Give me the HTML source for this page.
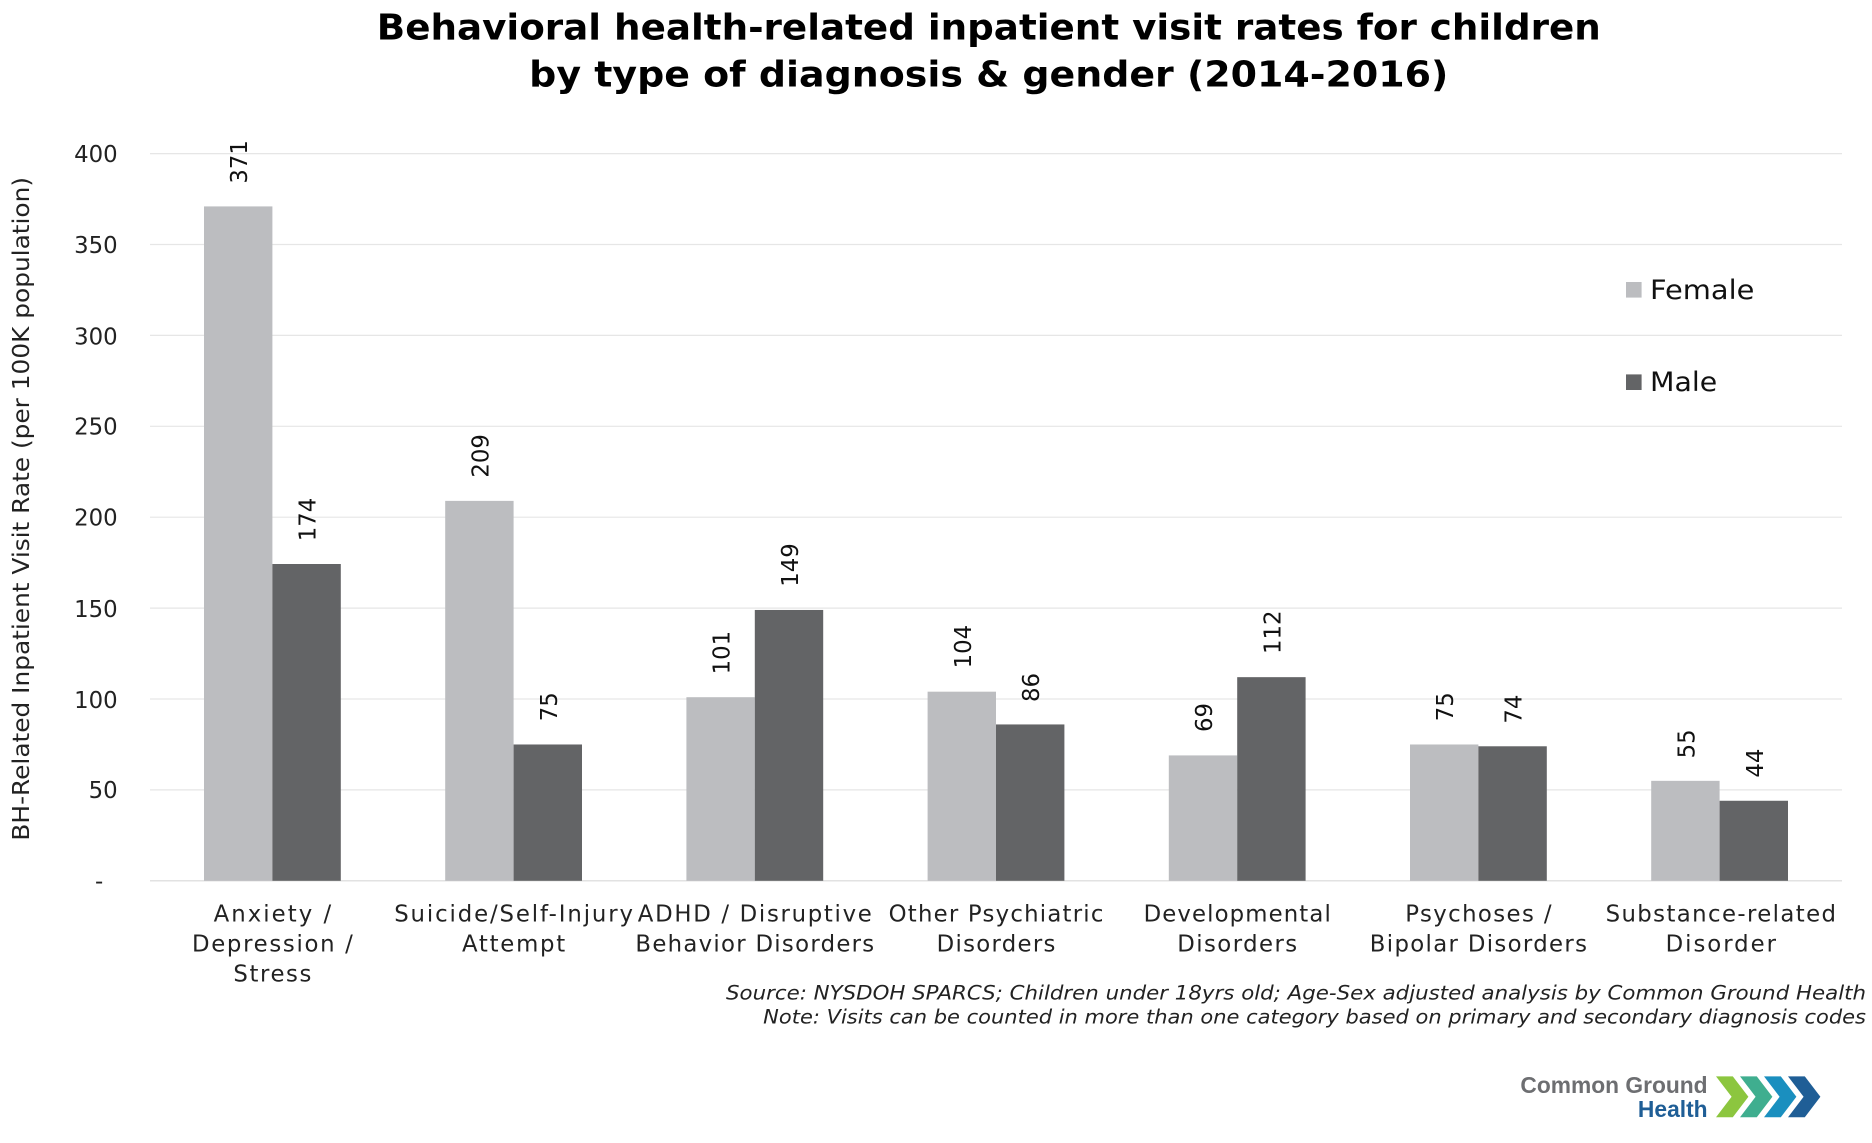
<!DOCTYPE html>
<html><head><meta charset="utf-8"><style>html,body{margin:0;padding:0;background:#fff;}svg{display:block;}</style></head>
<body>
<svg width="1872" height="1143" viewBox="0 0 1560 952.5" xmlns="http://www.w3.org/2000/svg" font-family="'DejaVu Sans','Liberation Sans',sans-serif">
<text x="824" y="33" font-size="30" font-weight="bold" text-anchor="middle" fill="#000" textLength="1020" lengthAdjust="spacingAndGlyphs">Behavioral health-related inpatient visit rates for children</text>
<text x="824" y="72" font-size="30" font-weight="bold" text-anchor="middle" fill="#000" textLength="766" lengthAdjust="spacingAndGlyphs">by type of diagnosis &amp; gender (2014-2016)</text>
<g stroke="#e6e6e6" stroke-width="1">
<line x1="125" x2="1535" y1="128" y2="128"/><line x1="125" x2="1535" y1="203.75" y2="203.75"/>
<line x1="125" x2="1535" y1="279.5" y2="279.5"/><line x1="125" x2="1535" y1="355.25" y2="355.25"/>
<line x1="125" x2="1535" y1="431" y2="431"/><line x1="125" x2="1535" y1="506.75" y2="506.75"/>
<line x1="125" x2="1535" y1="582.5" y2="582.5"/><line x1="125" x2="1535" y1="658.25" y2="658.25"/>
</g>
<line x1="125" x2="1535" y1="734" y2="734" stroke="#d9d9d9"/>
<g font-size="19" text-anchor="end" fill="#222">
<text x="98" y="135">400</text><text x="98" y="211">350</text><text x="98" y="287">300</text><text x="98" y="362">250</text>
<text x="98" y="438">200</text><text x="98" y="514">150</text><text x="98" y="590">100</text><text x="98" y="665">50</text><text x="86" y="741">-</text>
</g>
<text transform="translate(24,424) rotate(-90)" font-size="19" text-anchor="middle" fill="#222" textLength="553" lengthAdjust="spacingAndGlyphs">BH-Related Inpatient Visit Rate (per 100K population)</text>
<g id="bars">
<rect x="170" y="172" width="57" height="562" fill="#bcbdc0"/><rect x="227" y="470" width="57" height="264" fill="#636466"/>
<rect x="371" y="417.4" width="57" height="316.6" fill="#bcbdc0"/><rect x="428" y="620.4" width="57" height="113.6" fill="#636466"/>
<rect x="572" y="581" width="57" height="153" fill="#bcbdc0"/><rect x="629" y="508.3" width="57" height="225.7" fill="#636466"/>
<rect x="773" y="576.4" width="57" height="157.6" fill="#bcbdc0"/><rect x="830" y="603.7" width="57" height="130.3" fill="#636466"/>
<rect x="974" y="629.5" width="57" height="104.5" fill="#bcbdc0"/><rect x="1031" y="564.3" width="57" height="169.7" fill="#636466"/>
<rect x="1175" y="620.4" width="57" height="113.6" fill="#bcbdc0"/><rect x="1232" y="621.9" width="57" height="112.1" fill="#636466"/>
<rect x="1376" y="650.7" width="57" height="83.3" fill="#bcbdc0"/><rect x="1433" y="667.3" width="57" height="66.7" fill="#636466"/>
</g>
<g font-size="19" fill="#111">
<text transform="translate(206,153) rotate(-90)">371</text>
<text transform="translate(263,451) rotate(-90)">174</text>
<text transform="translate(407,398) rotate(-90)">209</text>
<text transform="translate(464,601) rotate(-90)">75</text>
<text transform="translate(608,562) rotate(-90)">101</text>
<text transform="translate(665,489) rotate(-90)">149</text>
<text transform="translate(809,557) rotate(-90)">104</text>
<text transform="translate(866,585) rotate(-90)">86</text>
<text transform="translate(1010,610) rotate(-90)">69</text>
<text transform="translate(1067,545) rotate(-90)">112</text>
<text transform="translate(1211,601) rotate(-90)">75</text>
<text transform="translate(1268,603) rotate(-90)">74</text>
<text transform="translate(1412,632) rotate(-90)">55</text>
<text transform="translate(1469,648) rotate(-90)">44</text>
</g>
<g font-size="19" text-anchor="middle" fill="#222" lengthAdjust="spacingAndGlyphs">
<text x="227" y="768" textLength="98">Anxiety /</text><text x="227" y="793" textLength="134">Depression /</text><text x="227" y="818" textLength="65">Stress</text>
<text x="428" y="768" textLength="199">Suicide/Self-Injury</text><text x="428" y="793" textLength="86">Attempt</text>
<text x="629" y="768" textLength="195">ADHD / Disruptive</text><text x="629" y="793" textLength="199">Behavior Disorders</text>
<text x="830" y="768" textLength="179">Other Psychiatric</text><text x="830" y="793" textLength="99">Disorders</text>
<text x="1031" y="768" textLength="156">Developmental</text><text x="1031" y="793" textLength="100">Disorders</text>
<text x="1232" y="768" textLength="122">Psychoses /</text><text x="1232" y="793" textLength="181">Bipolar Disorders</text>
<text x="1434" y="768" textLength="192">Substance-related</text><text x="1434" y="793" textLength="92">Disorder</text>
</g>
<rect x="1355" y="235" width="13" height="13" fill="#bcbdc0"/>
<text x="1375" y="249" font-size="22" fill="#111" textLength="87" lengthAdjust="spacingAndGlyphs">Female</text>
<rect x="1355" y="312" width="13" height="13" fill="#636466"/>
<text x="1375" y="326" font-size="22" fill="#111" textLength="56" lengthAdjust="spacingAndGlyphs">Male</text>
<g font-size="16.5" font-style="italic" text-anchor="end" fill="#222">
<text x="1555" y="833" textLength="950" lengthAdjust="spacingAndGlyphs">Source: NYSDOH SPARCS; Children under 18yrs old; Age-Sex adjusted analysis by Common Ground Health</text>
<text x="1555" y="853" textLength="919" lengthAdjust="spacingAndGlyphs">Note: Visits can be counted in more than one category based on primary and secondary diagnosis codes</text>
</g>
<text x="1423" y="911" font-size="19" font-weight="bold" text-anchor="end" fill="#6d6e71" font-family="'Liberation Sans',sans-serif" textLength="156" lengthAdjust="spacingAndGlyphs">Common Ground</text>
<text x="1423" y="931" font-size="19" font-weight="bold" text-anchor="end" fill="#1f5e96" font-family="'Liberation Sans',sans-serif">Health</text>
<g>
<polygon points="1430,897 1444,897 1457,914 1444,931 1430,931 1443,914" fill="#8cc63f"/>
<polygon points="1450,897 1464,897 1477,914 1464,931 1450,931 1463,914" fill="#3fae8f"/>
<polygon points="1470,897 1484,897 1497,914 1484,931 1470,931 1483,914" fill="#1a8fbf"/>
<polygon points="1490,897 1504,897 1517,914 1504,931 1490,931 1503,914" fill="#1f5e96"/>
</g>
</svg>
</body></html>
